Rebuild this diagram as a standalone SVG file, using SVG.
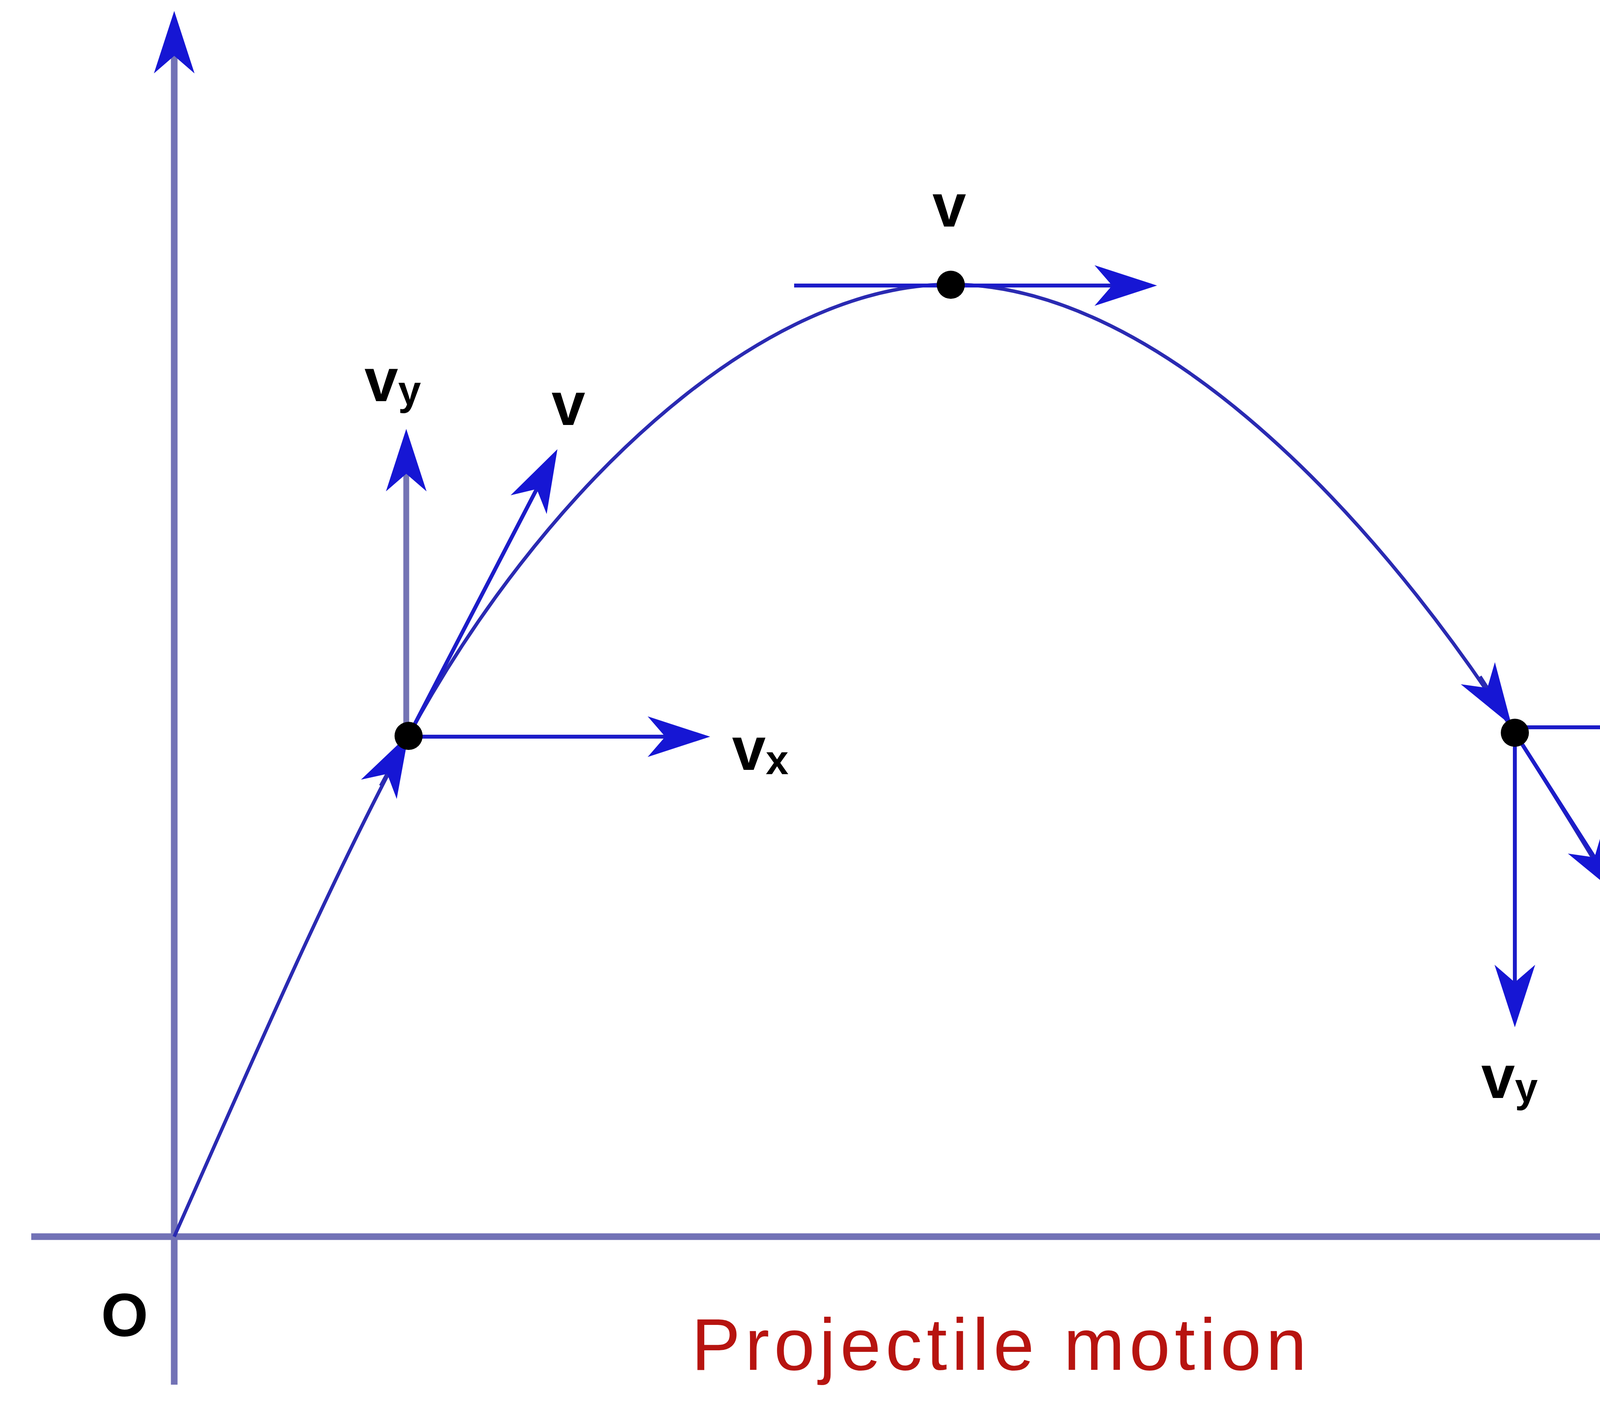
<svg xmlns="http://www.w3.org/2000/svg" width="5000" height="3638" viewBox="0 0 5000 3638">
<style>
.axis{stroke:#7272b6;stroke-width:17;fill:none}
.vec{stroke:#1c1cc8;stroke-width:10;fill:none}
.vecg{stroke:#7474b4;stroke-width:15;fill:none}
.traj{stroke:#2a2ab2;stroke-width:9;fill:none}
.dot{fill:#000}
.lbl{font-family:"Liberation Sans",Arial,sans-serif;font-weight:bold;font-size:155px;fill:#000}
.sub{font-size:105px}
.cap{font-family:"Liberation Sans",Arial,sans-serif;font-size:188px;fill:#b71410}
</style>
<defs>
<marker id="ah" viewBox="-150 -60 190 120" refX="0" refY="0" markerWidth="190" markerHeight="120" markerUnits="userSpaceOnUse" orient="auto" overflow="visible">
<path d="M30,0 L-130,-52 L-85,0 L-130,52 Z" fill="#1616d4"/>
</marker>
</defs>
<rect width="5000" height="3638" fill="#fff"/>
<g id="axes">
<line class="axis" x1="446" y1="3545" x2="446" y2="58" marker-end="url(#ah)"/>
<line class="axis" x1="80" y1="3166" x2="4698" y2="3166" marker-end="url(#ah)"/>
<text class="lbl" x="4813" y="3211" font-size="160">x</text>
<text class="lbl" x="319" y="3420" text-anchor="middle">O</text>
</g>
<g id="connectors">
<path id="trajectory" class="traj" d="M446,3166 C646,2716 846,2253 1046,1883 C1376,1272 1934,728 2434,728 C2934,728 3478,1256 3878,1876 C4128,2268 4410,2744 4590,3140"/>
<line class="traj" x1="974.6" y1="2012" x2="1031.7" y2="1906.4" marker-end="url(#ah)"/>
<line class="traj" x1="3788.7" y1="1732" x2="3853.7" y2="1832.8" marker-end="url(#ah)"/>
<line class="vec" x1="2033" y1="731" x2="2932" y2="731" marker-end="url(#ah)"/>
<line class="vecg" x1="1040" y1="1883" x2="1040" y2="1128" marker-end="url(#ah)"/>
<line class="vec" x1="1046" y1="1884" x2="1413.2" y2="1176.6" marker-end="url(#ah)"/>
<line class="vec" x1="1046" y1="1886" x2="1788" y2="1886" marker-end="url(#ah)"/>
<line class="vec" x1="3878" y1="1862" x2="4621" y2="1862" marker-end="url(#ah)"/>
<line class="vec" x1="3878" y1="1876" x2="3878" y2="2600" marker-end="url(#ah)"/>
<line class="vec" x1="3878" y1="1876" x2="4127.6" y2="2266.8" marker-end="url(#ah)"/>
</g>
<g id="point-left">
<circle class="dot" cx="1046" cy="1884" r="36"/>
<text class="lbl" x="933" y="1027">v<tspan class="sub" dy="9">y</tspan></text>
<text class="lbl" x="1455" y="1088" text-anchor="middle">v</text>
<text class="lbl" x="1874" y="1971">v<tspan class="sub" dy="11">x</tspan></text>
</g>
<g id="point-top">
<circle class="dot" cx="2434" cy="729" r="36"/>
<text class="lbl" x="2430" y="580" text-anchor="middle">v</text>
</g>
<g id="point-right">
<circle class="dot" cx="3878" cy="1876" r="36"/>
<text class="lbl" x="4701" y="1880">v<tspan class="sub" dy="14">x</tspan></text>
<text class="lbl" x="4222" y="2261">v</text>
<text class="lbl" x="3792" y="2811">v<tspan class="sub" dy="10">y</tspan></text>
</g>
<g id="caption">
<text class="cap" x="1770" y="3507" textLength="1575" lengthAdjust="spacing">Projectile motion</text>
</g>
</svg>
